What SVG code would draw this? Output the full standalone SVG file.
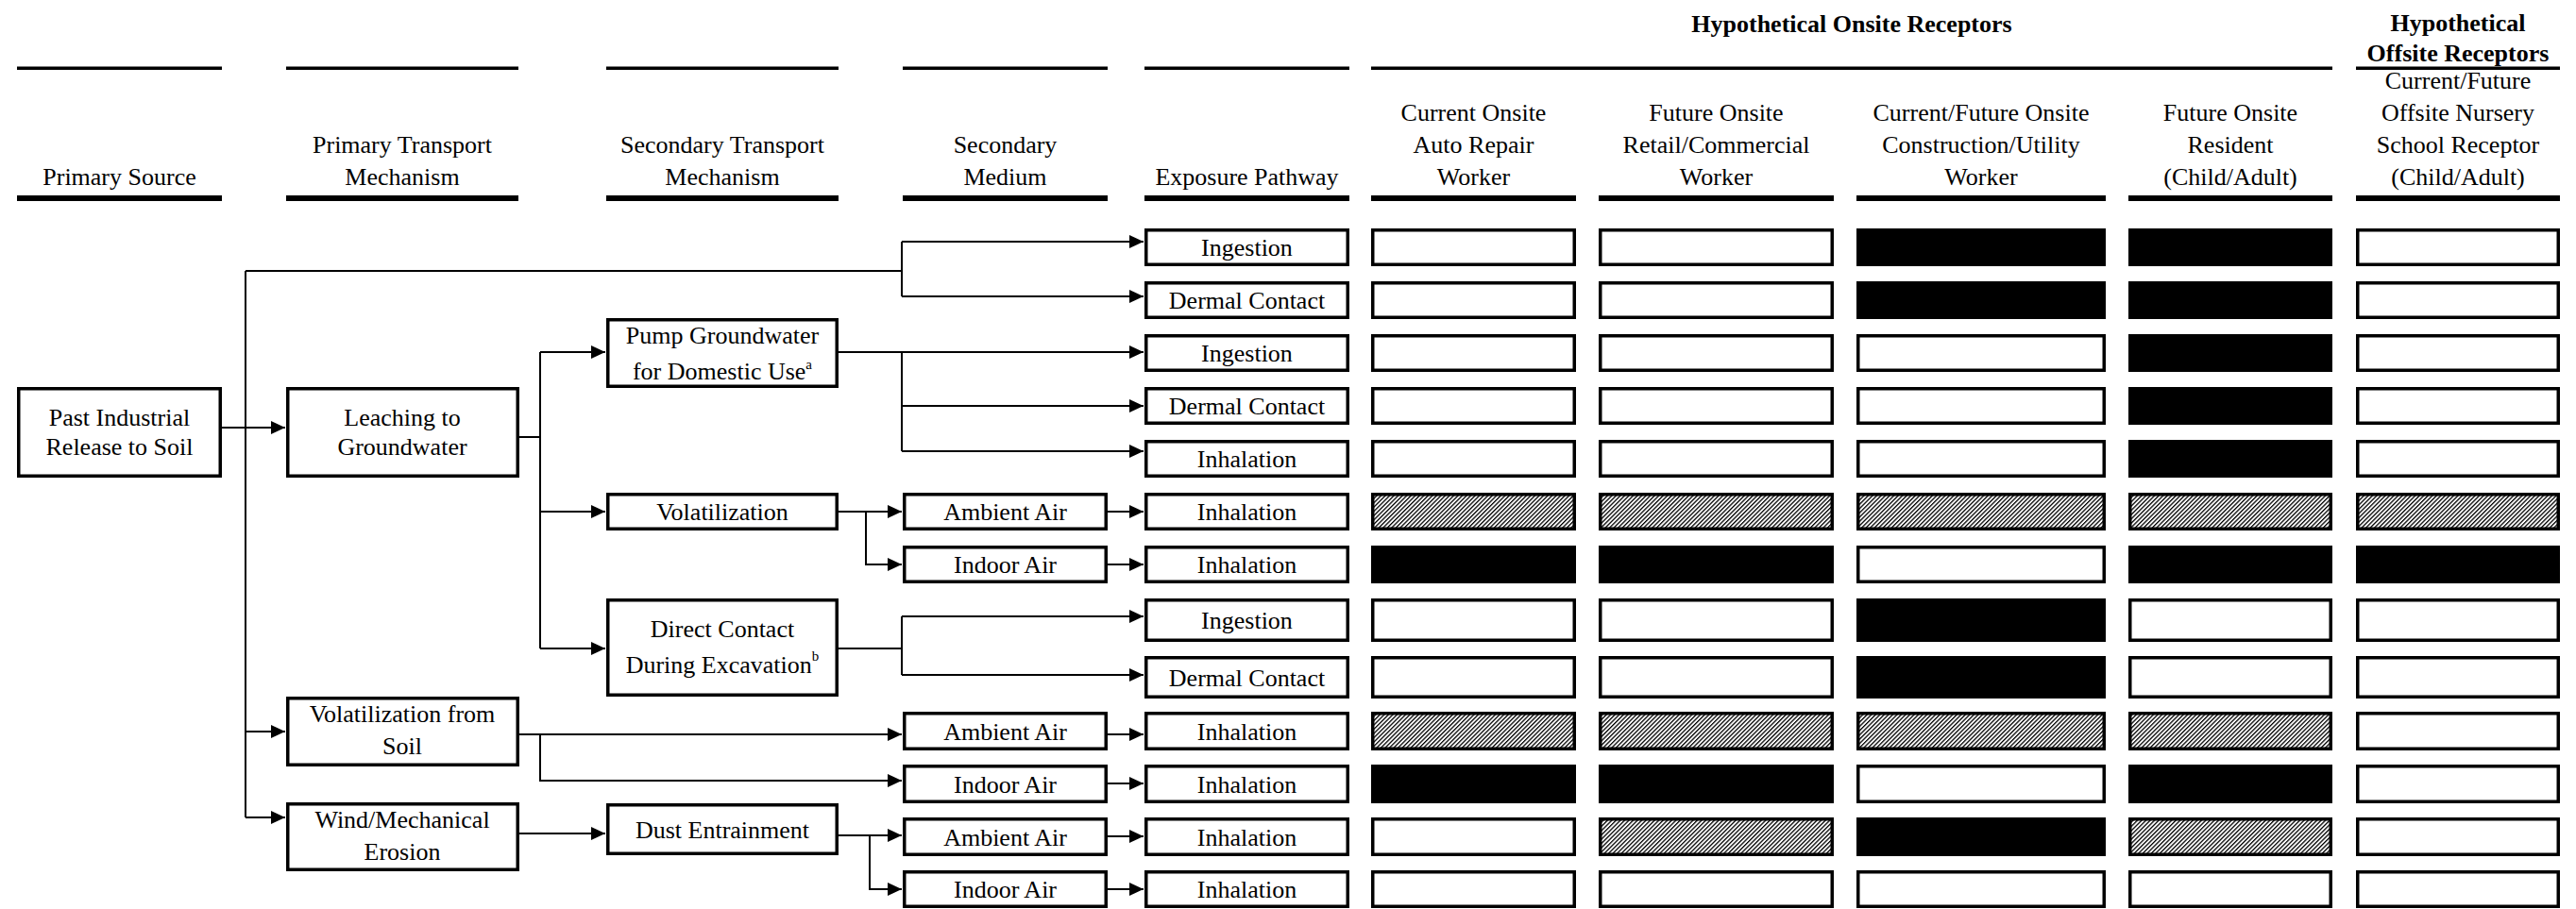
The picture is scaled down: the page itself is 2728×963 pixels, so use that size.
<svg xmlns="http://www.w3.org/2000/svg" width="2728" height="963" viewBox="0 0 2728 963">
<defs>
<marker id="ah" markerWidth="15" markerHeight="14" refX="15" refY="7" orient="auto" markerUnits="userSpaceOnUse"><path d="M0,0 L15,7 L0,14 z" fill="#000"/></marker>
<pattern id="hatch" patternUnits="userSpaceOnUse" width="3.2" height="3.2" patternTransform="rotate(45)"><rect x="0" y="0" width="3.2" height="3.2" fill="#fff"/><rect x="0" y="0" width="1.3" height="3.2" fill="#000"/></pattern>
<style>
text{font-family:"Liberation Serif","Times New Roman",serif;font-size:26px;fill:#000;text-anchor:middle}
.b{font-weight:bold}
.box{fill:#fff;stroke:#000;stroke-width:3.5}
.blk{fill:#000;stroke:#000;stroke-width:3.5}
.htc{fill:url(#hatch);stroke:#000;stroke-width:3.5}
.bar1{fill:#000}
.ln{fill:none;stroke:#000;stroke-width:2}
.ar{fill:none;stroke:#000;stroke-width:2;marker-end:url(#ah)}
.sup{font-size:15px}
</style>
</defs>
<rect width="2728" height="963" fill="#fff"/>

<g id="header">
<text class="b" x="1961" y="34">Hypothetical Onsite Receptors</text>
<text class="b" x="2603" y="33">Hypothetical</text>
<text class="b" x="2603" y="65">Offsite Receptors</text>
<rect class="bar1" x="18" y="70.5" width="217" height="3.5"/>
<rect class="bar1" x="303" y="70.5" width="246" height="3.5"/>
<rect class="bar1" x="642" y="70.5" width="246" height="3.5"/>
<rect class="bar1" x="956" y="70.5" width="217" height="3.5"/>
<rect class="bar1" x="1212" y="70.5" width="217" height="3.5"/>
<rect class="bar1" x="1452" y="70.5" width="1018" height="3.5"/>
<rect class="bar1" x="2495" y="70.5" width="216" height="3.5"/>
<rect class="bar1" x="18" y="207" width="217" height="6"/>
<rect class="bar1" x="303" y="207" width="246" height="6"/>
<rect class="bar1" x="642" y="207" width="246" height="6"/>
<rect class="bar1" x="956" y="207" width="217" height="6"/>
<rect class="bar1" x="1212" y="207" width="217" height="6"/>
<rect class="bar1" x="1452" y="207" width="217" height="6"/>
<rect class="bar1" x="1693" y="207" width="249" height="6"/>
<rect class="bar1" x="1966" y="207" width="264" height="6"/>
<rect class="bar1" x="2254" y="207" width="216" height="6"/>
<rect class="bar1" x="2495" y="207" width="216" height="6"/>
<text x="126.5" y="196">Primary Source</text>
<text x="426" y="162">Primary Transport</text>
<text x="426" y="196">Mechanism</text>
<text x="765" y="162">Secondary Transport</text>
<text x="765" y="196">Mechanism</text>
<text x="1064.5" y="162">Secondary</text>
<text x="1064.5" y="196">Medium</text>
<text x="1320.5" y="196">Exposure Pathway</text>
<text x="1560.5" y="128">Current Onsite</text>
<text x="1560.5" y="162">Auto Repair</text>
<text x="1560.5" y="196">Worker</text>
<text x="1817.5" y="128">Future Onsite</text>
<text x="1817.5" y="162">Retail/Commercial</text>
<text x="1817.5" y="196">Worker</text>
<text x="2098" y="128">Current/Future Onsite</text>
<text x="2098" y="162">Construction/Utility</text>
<text x="2098" y="196">Worker</text>
<text x="2362" y="128">Future Onsite</text>
<text x="2362" y="162">Resident</text>
<text x="2362" y="196">(Child/Adult)</text>
<text x="2603" y="94">Current/Future</text>
<text x="2603" y="128">Offsite Nursery</text>
<text x="2603" y="162">School Receptor</text>
<text x="2603" y="196">(Child/Adult)</text>
</g>

<g id="connectors">
<path class="ar" d="M235,453 H302"/>
<path class="ln" d="M260,287 V866"/>
<path class="ln" d="M260,287 H955 M955,256 V314"/>
<path class="ar" d="M955,256 H1211"/>
<path class="ar" d="M955,314 H1211"/>
<path class="ln" d="M510,463 H572 M572,373 V687"/>
<path class="ar" d="M572,373 H641"/>
<path class="ar" d="M572,542 H641"/>
<path class="ar" d="M572,687 H641"/>
<path class="ar" d="M888,373 H1211"/>
<path class="ln" d="M955,372 V478"/>
<path class="ar" d="M955,430 H1211"/>
<path class="ar" d="M955,478 H1211"/>
<path class="ar" d="M888,542 H955"/>
<path class="ar" d="M917,542 V598 H955"/>
<path class="ar" d="M1173,542 H1211"/>
<path class="ar" d="M1173,598 H1211"/>
<path class="ln" d="M888,687 H955 M955,653 V715"/>
<path class="ar" d="M955,653 H1211"/>
<path class="ar" d="M955,715 H1211"/>
<path class="ar" d="M260,775 H302"/>
<path class="ar" d="M550,778 H955"/>
<path class="ar" d="M572,778 V827 H955"/>
<path class="ar" d="M1173,778 H1211"/>
<path class="ar" d="M1173,830 H1211"/>
<path class="ar" d="M260,866 H302"/>
<path class="ar" d="M550,883 H641"/>
<path class="ar" d="M888,885 H955"/>
<path class="ar" d="M921,885 V942 H955"/>
<path class="ar" d="M1173,886 H1211"/>
<path class="ar" d="M1173,942 H1211"/>
</g>

<g id="n-past"><rect class="box" x="19.75" y="411.75" width="213.5" height="92.5"/><text x="126.5" y="451">Past Industrial</text><text x="126.5" y="482">Release to Soil</text></g>
<g id="n-leach"><rect class="box" x="304.75" y="411.75" width="243.5" height="92.5"/><text x="426" y="451">Leaching to</text><text x="426" y="482">Groundwater</text></g>
<g id="n-volsoil"><rect class="box" x="304.75" y="739.75" width="243.5" height="70.5"/><text x="426" y="765">Volatilization from</text><text x="426" y="799">Soil</text></g>
<g id="n-wind"><rect class="box" x="304.75" y="851.75" width="243.5" height="69.5"/><text x="426" y="877">Wind/Mechanical</text><text x="426" y="911">Erosion</text></g>
<g id="n-pump"><rect class="box" x="643.75" y="338.75" width="242.5" height="70.5"/><text x="765" y="364">Pump Groundwater</text><text x="765" y="402">for Domestic Use<tspan class="sup" dy="-11">a</tspan></text></g>
<g id="n-vol"><rect class="box" x="643.75" y="523.75" width="242.5" height="36.5"/><text x="765" y="551">Volatilization</text></g>
<g id="n-direct"><rect class="box" x="643.75" y="635.75" width="242.5" height="100.5"/><text x="765" y="675">Direct Contact</text><text x="765" y="713">During Excavation<tspan class="sup" dy="-13">b</tspan></text></g>
<g id="n-dust"><rect class="box" x="643.75" y="852.75" width="242.5" height="51.5"/><text x="765" y="888">Dust Entrainment</text></g>

<g id="n-med6"><rect class="box" x="957.75" y="523.75" width="213.5" height="36.5"/><text x="1064.5" y="551">Ambient Air</text></g>
<g id="n-med7"><rect class="box" x="957.75" y="579.75" width="213.5" height="36.5"/><text x="1064.5" y="607">Indoor Air</text></g>
<g id="n-med10"><rect class="box" x="957.75" y="755.75" width="213.5" height="37.5"/><text x="1064.5" y="784">Ambient Air</text></g>
<g id="n-med11"><rect class="box" x="957.75" y="811.75" width="213.5" height="37.5"/><text x="1064.5" y="840">Indoor Air</text></g>
<g id="n-med12"><rect class="box" x="957.75" y="867.75" width="213.5" height="37.5"/><text x="1064.5" y="896">Ambient Air</text></g>
<g id="n-med13"><rect class="box" x="957.75" y="923.75" width="213.5" height="36.5"/><text x="1064.5" y="951">Indoor Air</text></g>

<g id="n-exp1"><rect class="box" x="1213.75" y="243.75" width="213.5" height="36.5"/><text x="1320.5" y="271">Ingestion</text></g>
<g id="n-exp2"><rect class="box" x="1213.75" y="299.75" width="213.5" height="36.5"/><text x="1320.5" y="327">Dermal Contact</text></g>
<g id="n-exp3"><rect class="box" x="1213.75" y="355.75" width="213.5" height="36.5"/><text x="1320.5" y="383">Ingestion</text></g>
<g id="n-exp4"><rect class="box" x="1213.75" y="411.75" width="213.5" height="36.5"/><text x="1320.5" y="439">Dermal Contact</text></g>
<g id="n-exp5"><rect class="box" x="1213.75" y="467.75" width="213.5" height="36.5"/><text x="1320.5" y="495">Inhalation</text></g>
<g id="n-exp6"><rect class="box" x="1213.75" y="523.75" width="213.5" height="36.5"/><text x="1320.5" y="551">Inhalation</text></g>
<g id="n-exp7"><rect class="box" x="1213.75" y="579.75" width="213.5" height="36.5"/><text x="1320.5" y="607">Inhalation</text></g>
<g id="n-exp8"><rect class="box" x="1213.75" y="635.75" width="213.5" height="42.5"/><text x="1320.5" y="666">Ingestion</text></g>
<g id="n-exp9"><rect class="box" x="1213.75" y="696.75" width="213.5" height="41.5"/><text x="1320.5" y="727">Dermal Contact</text></g>
<g id="n-exp10"><rect class="box" x="1213.75" y="755.75" width="213.5" height="37.5"/><text x="1320.5" y="784">Inhalation</text></g>
<g id="n-exp11"><rect class="box" x="1213.75" y="811.75" width="213.5" height="37.5"/><text x="1320.5" y="840">Inhalation</text></g>
<g id="n-exp12"><rect class="box" x="1213.75" y="867.75" width="213.5" height="37.5"/><text x="1320.5" y="896">Inhalation</text></g>
<g id="n-exp13"><rect class="box" x="1213.75" y="923.75" width="213.5" height="36.5"/><text x="1320.5" y="951">Inhalation</text></g>

<g id="receptor-cells">
<rect class="box" x="1453.75" y="243.75" width="213.5" height="36.5"/>
<rect class="box" x="1694.75" y="243.75" width="245.5" height="36.5"/>
<rect class="blk" x="1967.75" y="243.75" width="260.5" height="36.5"/>
<rect class="blk" x="2255.75" y="243.75" width="212.5" height="36.5"/>
<rect class="box" x="2496.75" y="243.75" width="212.5" height="36.5"/>
<rect class="box" x="1453.75" y="299.75" width="213.5" height="36.5"/>
<rect class="box" x="1694.75" y="299.75" width="245.5" height="36.5"/>
<rect class="blk" x="1967.75" y="299.75" width="260.5" height="36.5"/>
<rect class="blk" x="2255.75" y="299.75" width="212.5" height="36.5"/>
<rect class="box" x="2496.75" y="299.75" width="212.5" height="36.5"/>
<rect class="box" x="1453.75" y="355.75" width="213.5" height="36.5"/>
<rect class="box" x="1694.75" y="355.75" width="245.5" height="36.5"/>
<rect class="box" x="1967.75" y="355.75" width="260.5" height="36.5"/>
<rect class="blk" x="2255.75" y="355.75" width="212.5" height="36.5"/>
<rect class="box" x="2496.75" y="355.75" width="212.5" height="36.5"/>
<rect class="box" x="1453.75" y="411.75" width="213.5" height="36.5"/>
<rect class="box" x="1694.75" y="411.75" width="245.5" height="36.5"/>
<rect class="box" x="1967.75" y="411.75" width="260.5" height="36.5"/>
<rect class="blk" x="2255.75" y="411.75" width="212.5" height="36.5"/>
<rect class="box" x="2496.75" y="411.75" width="212.5" height="36.5"/>
<rect class="box" x="1453.75" y="467.75" width="213.5" height="36.5"/>
<rect class="box" x="1694.75" y="467.75" width="245.5" height="36.5"/>
<rect class="box" x="1967.75" y="467.75" width="260.5" height="36.5"/>
<rect class="blk" x="2255.75" y="467.75" width="212.5" height="36.5"/>
<rect class="box" x="2496.75" y="467.75" width="212.5" height="36.5"/>
<rect class="htc" x="1453.75" y="523.75" width="213.5" height="36.5"/>
<rect class="htc" x="1694.75" y="523.75" width="245.5" height="36.5"/>
<rect class="htc" x="1967.75" y="523.75" width="260.5" height="36.5"/>
<rect class="htc" x="2255.75" y="523.75" width="212.5" height="36.5"/>
<rect class="htc" x="2496.75" y="523.75" width="212.5" height="36.5"/>
<rect class="blk" x="1453.75" y="579.75" width="213.5" height="36.5"/>
<rect class="blk" x="1694.75" y="579.75" width="245.5" height="36.5"/>
<rect class="box" x="1967.75" y="579.75" width="260.5" height="36.5"/>
<rect class="blk" x="2255.75" y="579.75" width="212.5" height="36.5"/>
<rect class="blk" x="2496.75" y="579.75" width="212.5" height="36.5"/>
<rect class="box" x="1453.75" y="635.75" width="213.5" height="42.5"/>
<rect class="box" x="1694.75" y="635.75" width="245.5" height="42.5"/>
<rect class="blk" x="1967.75" y="635.75" width="260.5" height="42.5"/>
<rect class="box" x="2255.75" y="635.75" width="212.5" height="42.5"/>
<rect class="box" x="2496.75" y="635.75" width="212.5" height="42.5"/>
<rect class="box" x="1453.75" y="696.75" width="213.5" height="41.5"/>
<rect class="box" x="1694.75" y="696.75" width="245.5" height="41.5"/>
<rect class="blk" x="1967.75" y="696.75" width="260.5" height="41.5"/>
<rect class="box" x="2255.75" y="696.75" width="212.5" height="41.5"/>
<rect class="box" x="2496.75" y="696.75" width="212.5" height="41.5"/>
<rect class="htc" x="1453.75" y="755.75" width="213.5" height="37.5"/>
<rect class="htc" x="1694.75" y="755.75" width="245.5" height="37.5"/>
<rect class="htc" x="1967.75" y="755.75" width="260.5" height="37.5"/>
<rect class="htc" x="2255.75" y="755.75" width="212.5" height="37.5"/>
<rect class="box" x="2496.75" y="755.75" width="212.5" height="37.5"/>
<rect class="blk" x="1453.75" y="811.75" width="213.5" height="37.5"/>
<rect class="blk" x="1694.75" y="811.75" width="245.5" height="37.5"/>
<rect class="box" x="1967.75" y="811.75" width="260.5" height="37.5"/>
<rect class="blk" x="2255.75" y="811.75" width="212.5" height="37.5"/>
<rect class="box" x="2496.75" y="811.75" width="212.5" height="37.5"/>
<rect class="box" x="1453.75" y="867.75" width="213.5" height="37.5"/>
<rect class="htc" x="1694.75" y="867.75" width="245.5" height="37.5"/>
<rect class="blk" x="1967.75" y="867.75" width="260.5" height="37.5"/>
<rect class="htc" x="2255.75" y="867.75" width="212.5" height="37.5"/>
<rect class="box" x="2496.75" y="867.75" width="212.5" height="37.5"/>
<rect class="box" x="1453.75" y="923.75" width="213.5" height="36.5"/>
<rect class="box" x="1694.75" y="923.75" width="245.5" height="36.5"/>
<rect class="box" x="1967.75" y="923.75" width="260.5" height="36.5"/>
<rect class="box" x="2255.75" y="923.75" width="212.5" height="36.5"/>
<rect class="box" x="2496.75" y="923.75" width="212.5" height="36.5"/>
</g>
</svg>
